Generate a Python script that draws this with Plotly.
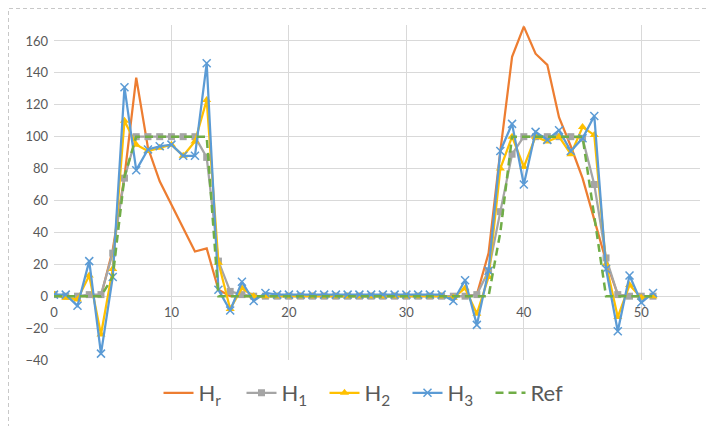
import plotly.graph_objects as go

x_vals = list(range(52))

hr = [0, 0, 0, 0, 0, 29, 75, 137, 93, 72, 57, 42, 28, 30, 4, 0, 0, 0, 0, 0,
      0, 0, 0, 0, 0, 0, 0, 0, 0, 0, 0, 0, 0, 0, 0, 0, 1, 27, 91, 150,
      169, 152, 145, 112, 94, 74, 48, 22, 1, 0, 0, 0]

h1 = [1, 0, 0, 1, 1, 27, 74, 100, 100, 100, 100, 100, 100, 87, 22, 3, 1, 0, 0, 0,
      0, 0, 0, 0, 0, 0, 0, 0, 0, 0, 0, 0, 0, 0, 0, 0, 1, 16, 53, 89,
      100, 100, 100, 100, 100, 99, 70, 24, 1, 0, 0, 0]

h2 = [1, -1, -2, 13, -24, 17, 110, 95, 91, 93, 95, 88, 97, 123, 21, -8, 5, 0, 0, 0,
      0, 0, 0, 0, 0, 0, 0, 0, 0, 0, 0, 0, 0, 0, -1, 5, -11, 12, 80, 100,
      81, 100, 97, 100, 89, 106, 101, 20, -13, 7, -1, 0]

h3 = [1, 1, -6, 22, -36, 12, 131, 79, 92, 94, 95, 88, 88, 146, 4, -9, 9, -3, 2, 1,
      1, 1, 1, 1, 1, 1, 1, 1, 1, 1, 1, 1, 1, 1, -3, 10, -18, 16, 91, 108,
      70, 103, 98, 104, 91, 99, 113, 17, -22, 13, -4, 2]

ref = [0, 0, 0, 0, 0, 12, 75, 100, 100, 100, 100, 100, 100, 100, 0, 0, 0, 0, 0, 0,
       0, 0, 0, 0, 0, 0, 0, 0, 0, 0, 0, 0, 0, 0, 0, 0, 0, 0, 40, 100,
       100, 100, 100, 100, 100, 100, 50, 0, 0, 0, 0, 0]

names = ["H<sub>r</sub>", "H<sub>1</sub>", "H<sub>2</sub>", "H<sub>3</sub>", "Ref"]

FONT = "Lato, 'Open Sans', sans-serif"
GRID = "#d9d9d9"
TXT = "#595959"

fig = go.Figure()
fig.add_trace(go.Scatter(x=x_vals, y=hr, name=names[0], mode="lines",
                         line=dict(color="#ED7D31", width=2.25)))
fig.add_trace(go.Scatter(x=x_vals, y=h1, name=names[1], mode="lines+markers",
                         line=dict(color="#A5A5A5", width=2.25),
                         marker=dict(symbol="square", size=7, color="#A5A5A5")))
fig.add_trace(go.Scatter(x=x_vals, y=h2, name=names[2], mode="lines+markers",
                         line=dict(color="#FFC000", width=2.25),
                         marker=dict(symbol="triangle-up", size=8, color="#FFC000")))
fig.add_trace(go.Scatter(x=x_vals, y=h3, name=names[3], mode="lines+markers",
                         line=dict(color="#5B9BD5", width=2.25),
                         marker=dict(symbol="x-thin", size=8, color="#5B9BD5",
                                     line=dict(color="#5B9BD5", width=1.5))))
fig.add_trace(go.Scatter(x=x_vals, y=ref, name=names[4], mode="lines",
                         line=dict(color="#70AD47", width=2.5, dash="8px,5px")))

W, H = 709, 418
L, R, T, B = 46, 17, 17, 66
pw, ph = W - L - R, H - T - B

ymin, ymax = -40, 170
fig.update_layout(
    width=W, height=H,
    margin=dict(l=L, r=R, t=T, b=B, autoexpand=False),
    paper_bgcolor="white", plot_bgcolor="white",
    font=dict(family=FONT, color=TXT, size=13),
    showlegend=True,
    legend=dict(orientation="h", x=0.5 - 11 / pw, xanchor="center",
                yref="container", y=1 - 385 / H, yanchor="middle",
                font=dict(size=22, color=TXT, family=FONT),
                entrywidth=38, entrywidthmode="pixels",
                bgcolor="rgba(0,0,0,0)"),
    xaxis=dict(range=[0, 55], dtick=10, tick0=0, showgrid=True, gridcolor=GRID,
               gridwidth=1, zeroline=False, showline=False, ticks="",
               anchor="free", position=(0 - ymin) / (ymax - ymin),
               ticklabelstandoff=7, tickfont=dict(size=13, color=TXT)),
    yaxis=dict(range=[ymin, ymax], dtick=20, tick0=0, showgrid=True, gridcolor=GRID,
               gridwidth=1, zeroline=False, showline=False, ticks="",
               ticklabelstandoff=5, tickfont=dict(size=13, color=TXT)),
    shapes=[dict(type="rect", xref="paper", yref="paper",
                 x0=(0.5 - L) / pw, x1=(W + 20 - L) / pw,
                 y0=(T + ph - (H + 20)) / ph, y1=(T + ph - 0.5) / ph,
                 line=dict(color="#c8c8c8", width=1, dash="4px,3px"),
                 fillcolor="rgba(0,0,0,0)", layer="below")],
)

fig.write_html("out.html")
